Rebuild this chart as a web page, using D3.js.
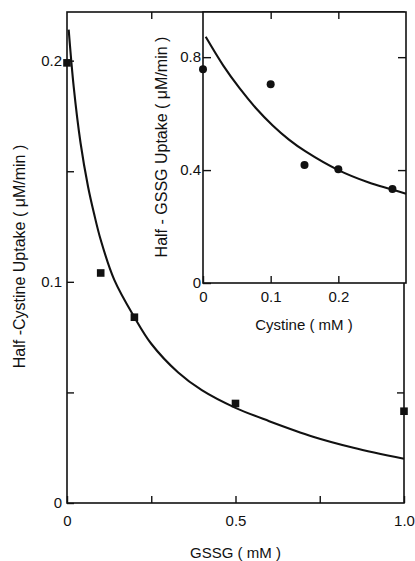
<!DOCTYPE html>
<html>
<head>
<meta charset="utf-8">
<script src="https://cdn.jsdelivr.net/npm/d3@7"></script>
<style>
  body { margin: 0; background: #fff; }
  svg { display: block; font-family: "Liberation Sans", Arial, sans-serif; }
</style>
</head>
<body>
<div id="chart"></div>
<script>
// main panel: half-cystine uptake against GSSG
const gssgConc = [0, 0.1, 0.2, 0.5, 1.0]
const cystineUptake = [0.199, 0.104, 0.084, 0.045, 0.0415]
// fitted curve
const gssgFitX = [0.005, 0.02, 0.04, 0.0625, 0.08, 0.1, 0.14, 0.2, 0.25, 0.33, 0.4, 0.5, 0.6, 0.73, 0.85, 1.0]
const gssgFitY = [0.214, 0.188, 0.163, 0.143, 0.131, 0.119, 0.101, 0.084, 0.072, 0.059, 0.051, 0.043, 0.037, 0.030, 0.025, 0.020]

// inset: half-GSSG uptake against cystine
const cystineConc = [0, 0.1, 0.15, 0.2, 0.28]
const gssgUptake = [0.757, 0.704, 0.418, 0.403, 0.333]
const cysFitX = [0.004, 0.03, 0.054, 0.078, 0.103, 0.127, 0.151, 0.2, 0.245, 0.277, 0.3]
const cysFitY = [0.872, 0.770, 0.690, 0.620, 0.558, 0.508, 0.467, 0.400, 0.356, 0.333, 0.316]

// ticks
const mainXTicks = [0, 0.25, 0.5, 0.75, 1.0]
const mainXLabels = ["0", "", "0.5", "", "1.0"]
const mainYTicks = [0, 0.05, 0.1, 0.15, 0.2]
const mainYLabels = ["0", "", "0.1", "", "0.2"]
const insetXTicks = [0, 0.1, 0.2]
const insetXLabels = ["0", "0.1", "0.2"]
const insetYTicks = [0, 0.4, 0.8]
const insetYLabels = ["0", "0.4", "0.8"]

const W = 415, H = 561
const ink = "#111"

const svg = d3.select("#chart").append("svg")
  .attr("width", W).attr("height", H)
svg.append("rect").attr("width", W).attr("height", H).attr("fill", "#fff")

const x = d3.scaleLinear().domain([0, 1]).range([67, 404])
const y = d3.scaleLinear().domain([0, 0.222]).range([503, 12])

const xi = d3.scaleLinear().domain([0, 0.3]).range([203, 406])
const yi = d3.scaleLinear().domain([0, 0.96]).range([283, 12])

// strip domain line and restyle ticks
function styleAxis(g, fs) {
  g.select(".domain").remove()
  g.selectAll(".tick line").attr("stroke", ink).attr("stroke-width", 1.4)
  g.selectAll(".tick text").attr("fill", ink).attr("font-size", fs)
  g.attr("font-family", null)
}

// ---- main panel ----
svg.append("g").attr("transform", `translate(0,${y(0)})`)
  .call(d3.axisBottom(x).tickValues(mainXTicks).tickFormat((d, i) => mainXLabels[i]).tickSize(-7).tickPadding(12))
  .call(g => styleAxis(g, 15))
svg.append("g").attr("transform", `translate(${x(0)},0)`)
  .call(d3.axisLeft(y).tickValues(mainYTicks).tickFormat((d, i) => mainYLabels[i]).tickSize(-7).tickPadding(5))
  .call(g => styleAxis(g, 15))
svg.append("g").attr("transform", `translate(0,${y.range()[1]})`)
  .call(d3.axisTop(x).tickValues(mainXTicks.slice(1, 4)).tickFormat("").tickSize(-7))
  .call(g => styleAxis(g, 15))
svg.append("g").attr("transform", `translate(${x(1)},0)`)
  .call(d3.axisRight(y).tickValues(mainYTicks.slice(1)).tickFormat("").tickSize(-7))
  .call(g => styleAxis(g, 15))

svg.append("rect")
  .attr("x", x(0)).attr("y", y.range()[1])
  .attr("width", x(1) - x(0)).attr("height", y(0) - y.range()[1])
  .attr("fill", "none").attr("stroke", ink).attr("stroke-width", 1.6)

const mainLine = d3.line().x(d => x(d[0])).y(d => y(d[1])).curve(d3.curveCatmullRom.alpha(0.5))
svg.append("path")
  .datum(gssgFitX.map((v, i) => [v, gssgFitY[i]]))
  .attr("d", mainLine)
  .attr("fill", "none").attr("stroke", ink).attr("stroke-width", 2.1)

svg.selectAll("rect.sq")
  .data(gssgConc)
  .enter().append("rect")
  .attr("class", "sq")
  .attr("x", d => x(d) - 3.8)
  .attr("y", (d, i) => y(cystineUptake[i]) - 3.8)
  .attr("width", 7.6).attr("height", 7.6)
  .attr("fill", ink)

svg.append("text")
  .attr("x", x(0.5)).attr("y", 558)
  .attr("text-anchor", "middle").attr("font-size", 15).attr("fill", ink)
  .text("GSSG ( mM )")
svg.append("text")
  .attr("transform", `translate(25,${(143 + 370) / 2}) rotate(-90)`)
  .attr("text-anchor", "middle").attr("font-size", 16).attr("fill", ink)
  .text("Half -Cystine Uptake ( μM/min )")

// ---- inset ----
svg.append("rect")
  .attr("x", xi(0)).attr("y", yi.range()[1])
  .attr("width", xi(0.3) - xi(0)).attr("height", yi(0) - yi.range()[1])
  .attr("fill", "#fff").attr("stroke", ink).attr("stroke-width", 1.6)

svg.append("g").attr("transform", `translate(0,${yi(0)})`)
  .call(d3.axisBottom(xi).tickValues(insetXTicks).tickFormat((d, i) => insetXLabels[i]).tickSize(-7).tickPadding(8))
  .call(g => styleAxis(g, 15))
svg.append("g").attr("transform", `translate(${xi(0)},0)`)
  .call(d3.axisLeft(yi).tickValues(insetYTicks).tickFormat((d, i) => insetYLabels[i]).tickSize(-8).tickPadding(2))
  .call(g => styleAxis(g, 15))
svg.append("g").attr("transform", `translate(0,${yi.range()[1]})`)
  .call(d3.axisTop(xi).tickValues(insetXTicks.slice(1)).tickFormat("").tickSize(-7))
  .call(g => styleAxis(g, 15))
svg.append("g").attr("transform", `translate(${xi(0.3)},0)`)
  .call(d3.axisRight(yi).tickValues(insetYTicks.slice(1)).tickFormat("").tickSize(-8))
  .call(g => styleAxis(g, 15))

const insetLine = d3.line().x(d => xi(d[0])).y(d => yi(d[1])).curve(d3.curveCatmullRom.alpha(0.5))
svg.append("path")
  .datum(cysFitX.map((v, i) => [v, cysFitY[i]]))
  .attr("d", insetLine)
  .attr("fill", "none").attr("stroke", ink).attr("stroke-width", 2.1)

svg.selectAll("circle.dot")
  .data(cystineConc)
  .enter().append("circle")
  .attr("class", "dot")
  .attr("cx", d => xi(d))
  .attr("cy", (d, i) => yi(gssgUptake[i]))
  .attr("r", 4)
  .attr("fill", ink)

svg.append("text")
  .attr("x", 304).attr("y", 330)
  .attr("text-anchor", "middle").attr("font-size", 15).attr("fill", ink)
  .text("Cystine ( mM )")
svg.append("text")
  .attr("transform", `translate(167,${(37 + 257) / 2}) rotate(-90)`)
  .attr("text-anchor", "middle").attr("font-size", 16).attr("fill", ink)
  .text("Half - GSSG Uptake ( μM/min )")
</script>
</body>
</html>
